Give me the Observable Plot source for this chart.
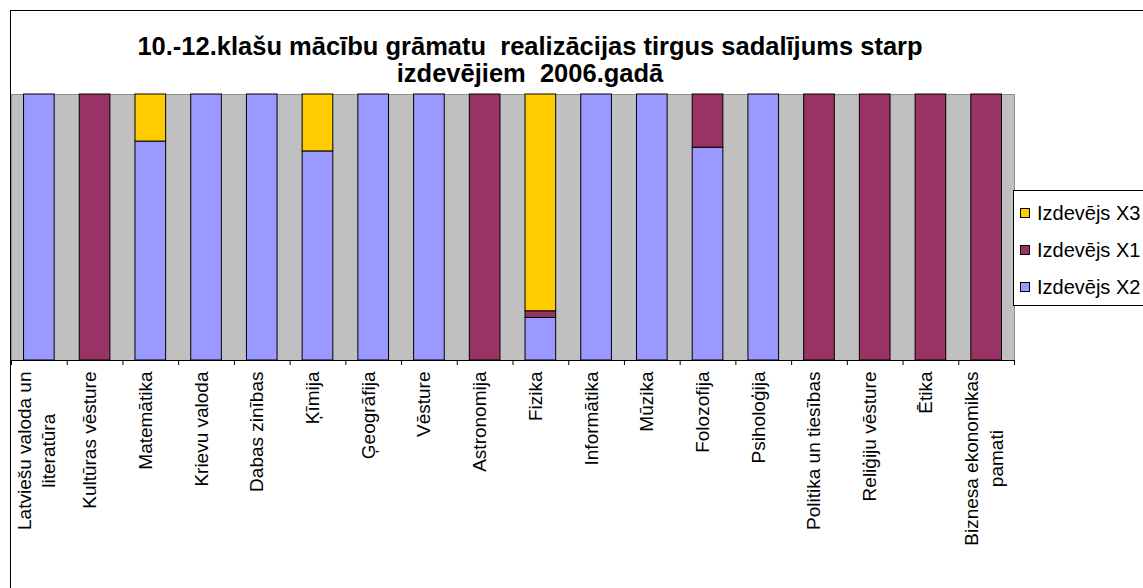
<!DOCTYPE html>
<html><head><meta charset="utf-8">
<script src="https://cdn.jsdelivr.net/npm/d3@7"></script>
<script src="https://cdn.jsdelivr.net/npm/@observablehq/plot@0.6"></script>
<style>
body{margin:0;background:#fff;font-family:"Liberation Sans",Arial,sans-serif;}
#wrap{position:relative;width:1143px;height:588px;overflow:hidden;background:#fff}
#border{position:absolute;left:10px;top:10px;width:1140px;height:590px;border:1px solid #000;box-sizing:border-box}
#title{position:absolute;left:0;width:1060px;top:33px;text-align:center;font-weight:bold;font-size:25.5px;line-height:27px;color:#000}
#chart{position:absolute;left:0;top:0}
#legend{position:absolute;left:1013px;top:190px;width:140px;height:116px;border:1px solid #000;background:#fff;box-sizing:border-box}
.li{position:absolute;left:6px;height:24px;line-height:24px;font-size:20px;white-space:nowrap;color:#000}
.sw{display:inline-block;width:10px;height:10px;border:1px solid #000;box-sizing:border-box;margin-right:7px;vertical-align:middle;position:relative;top:-2px}
</style></head>
<body>
<div id="wrap">
  <div id="chart"></div>
  <div id="border"></div>
  <div id="title">10.-12.klašu mācību grāmatu&nbsp; realizācijas tirgus sadalījums starp<br>izdevējiem&nbsp; 2006.gadā</div>
  <div id="legend"></div>
</div>
<script>
const categories = ["Latviešu valoda un\nliteratūra","Kultūras vēsture","Matemātika","Krievu valoda","Dabas zinības","Ķīmija","Ģeogrāfija","Vēsture","Astronomija","Fizika","Informātika","Mūzika","Folozofija","Psiholoģija","Politika un tiesības","Reliģiju vēsture","Ētika","Biznesa ekonomikas\npamati"];
const seriesNames = ["Izdevējs X2","Izdevējs X1","Izdevējs X3"];
const seriesColors = ["#9999FF","#993366","#FFCC00"];
const x2 = [100,0,82.3,100,100,78.6,100,100,0,16,100,100,80,100,0,0,0,0];
const x1 = [0,100,0,0,0,0,0,0,100,2.5,0,0,20,0,100,100,100,100];
const x3 = [0,0,17.7,0,0,21.4,0,0,0,81.5,0,0,0,0,0,0,0,0];
const seriesValues = [x2,x1,x3];

const rows = [];
categories.forEach((c,i)=>seriesNames.forEach((s,j)=>{
  if (seriesValues[j][i] > 0) rows.push({cat:c, series:s, value:seriesValues[j][i]});
}));

const W = 1143, H = 588;
const mL = 11, mR = 129, mT = 94, mB = 228;
const step = (W - mL - mR) / categories.length;
const fontFam = '"Liberation Sans", Arial, sans-serif';
const fs = 19;

const ctx = document.createElement("canvas").getContext("2d");
ctx.font = `${fs}px ${fontFam}`;
const labelTop = 11;
const labelMarks = categories.map(c => {
  const lines = c.split("\n");
  const w = d3.max(lines, l => ctx.measureText(l).width);
  return Plot.text([c], {x: d => d, text: d => d, frameAnchor: "bottom", rotate: -90,
    textAnchor: "middle", lineHeight: 1.3, dy: labelTop + w/2, dx: lines.length > 1 ? 16 : 1,
    fontSize: fs, fill: "#000", fontFamily: fontFam});
});

const chart = Plot.plot({
  width: W, height: H,
  marginLeft: mL, marginRight: mR, marginTop: mT, marginBottom: mB,
  style: {fontFamily: fontFam, background: "transparent"},
  x: {domain: categories, paddingInner: 0.45, paddingOuter: 0.225, round: false, axis: null},
  y: {domain: [0,100], axis: null},
  color: {domain: seriesNames, range: seriesColors},
  marks: [
    Plot.frame({fill: "#C0C0C0", stroke: "#909090"}),
    Plot.barY(rows, Plot.stackY({x: "cat", y: "value", fill: "series", order: seriesNames, stroke: "#000", strokeWidth: 1})),
    Plot.ruleY([0], {stroke: "#000", strokeWidth: 1}),
    Plot.axisX({tickFormat: () => "", tickSize: 5, dx: -step/2, stroke: "#000", label: null}),
    Plot.axisX({ticks: [categories[categories.length-1]], tickFormat: () => "", tickSize: 5, dx: step/2, stroke: "#000", label: null}),
    ...labelMarks
  ]
});
document.getElementById("chart").appendChild(chart);

const leg = document.getElementById("legend");
const rowsTop = [22, 59, 96];
[2,1,0].forEach((j,k) => {
  const d = document.createElement("div");
  d.className = "li";
  d.style.top = (rowsTop[k] - 12) + "px";
  d.innerHTML = `<span class="sw" style="background:${seriesColors[j]}"></span>${seriesNames[j]}`;
  leg.appendChild(d);
});
</script>
</body></html>
